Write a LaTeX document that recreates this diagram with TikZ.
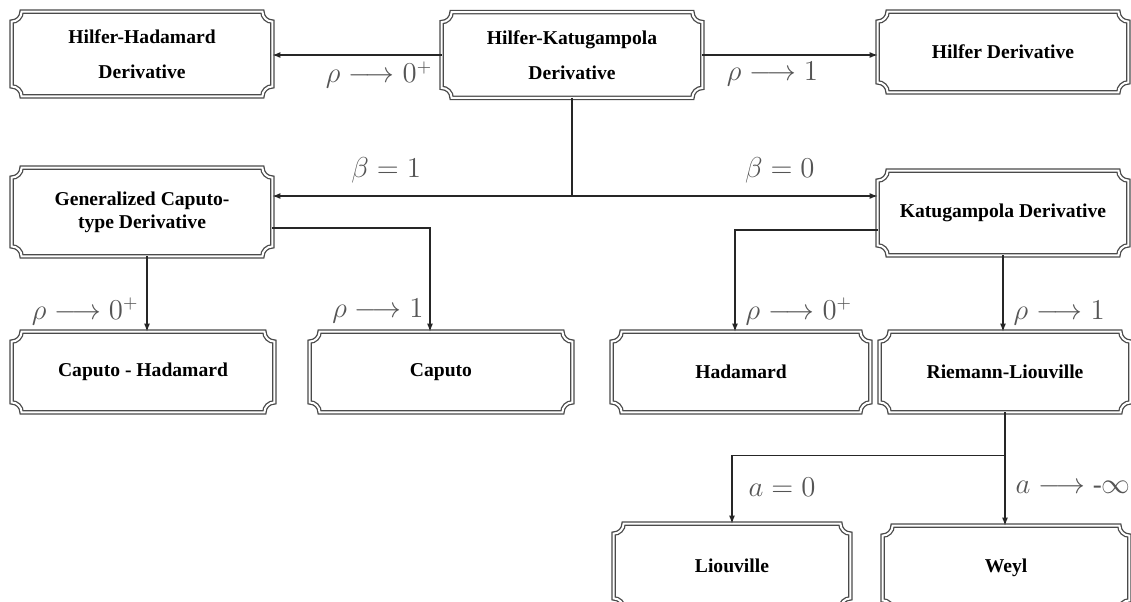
\documentclass[tikz,border=0pt]{standalone}
\usepackage{fontspec}
\setmainfont{Liberation Serif}
\usepackage{amsmath}
\usetikzlibrary{arrows.meta, positioning, calc}
\definecolor{framegray}{HTML}{4A4A4A}
\definecolor{condgray}{HTML}{555555}

\begin{document}
\begin{tikzpicture}[x=0.5pt, y=0.5pt,
  plaque/.style={minimum width=130pt, minimum height=41pt, inner sep=2pt,
                 align=center, font=\bfseries\fontsize{9.8}{11.5}\selectfont},
  frame/.style={draw=framegray, line width=0.65pt, double=white, double distance=1pt},
  arr/.style={draw=black!85, line width=0.6pt, -{Latex[length=4pt, width=3pt]}},
  cond/.style={text=condgray, font=\fontsize{13.5}{16}\selectfont, inner sep=2pt}]
\useasboundingbox (0,0) rectangle (1131,-601);

% top row
\node[plaque, minimum height=42pt] (hh) at (142,-54) {Hilfer-Hadamard\\[6pt]Derivative};
\node[plaque, minimum height=42.5pt] (hk) at (572,-55) {Hilfer-Katugampola\\[6pt]Derivative};
\node[plaque, minimum width=125pt, minimum height=40pt] (hd) at (1003,-52) {Hilfer Derivative};

% second row
\node[plaque, minimum height=44pt] (gc) at (142,-212) {Generalized Caputo-\\type Derivative};
\node[plaque, minimum width=125pt, minimum height=42pt] (kd) at (1003,-213) {Katugampola Derivative};

% third row
\node[plaque, minimum width=131pt, minimum height=40pt] (ch) at (143,-372) {Caputo - Hadamard};
\node[plaque, minimum width=131pt, minimum height=40pt] (cp) at (441,-372) {Caputo};
\node[plaque, minimum width=129pt, minimum height=40pt] (hm) at (741,-372) {Hadamard};
\node[plaque, minimum width=125pt, minimum height=40pt] (rl) at (1005,-372) {Riemann-Liouville};

% bottom row
\node[plaque, minimum width=118pt, minimum height=42pt] (lv) at (732,-566) {Liouville};
\node[plaque, minimum width=123pt, minimum height=42pt] (wy) at (1006,-568) {Weyl};

% plaque frames
\foreach \b in {hh,hk,hd,gc,kd,ch,cp,hm,rl,lv,wy}
  \draw[frame] let \p1=(\b.south west), \p2=(\b.north east) in
    (\x1+5pt,\y1) -- (\x2-5pt,\y1) arc[start angle=180, end angle=90, radius=5pt]
    -- (\x2,\y2-5pt) arc[start angle=270, end angle=180, radius=5pt]
    -- (\x1+5pt,\y2) arc[start angle=0, end angle=-90, radius=5pt]
    -- (\x1,\y1+5pt) arc[start angle=90, end angle=0, radius=5pt] -- cycle;

% connectors
\draw[arr] (hk.west) -- (hk.west -| hh.east)
  node[cond, pos=0.37, below=1pt] {$\rho\longrightarrow 0^{+}$};
\draw[arr] (hk.east) -- (hk.east -| hd.west)
  node[cond, pos=0.4, below=1pt] {$\rho\longrightarrow 1$};
\draw[arr] (hk.south) |- ([yshift=8pt]gc.east)
  node[cond, pos=0.81, above=4pt] {$\beta=1$};
\draw[arr] (hk.south) |- ([yshift=8.5pt]kd.west)
  node[cond, pos=0.84, above=4pt] {$\beta=0$};

\draw[arr] ([xshift=2.5pt]gc.south) -- ([xshift=2.5pt]gc.south |- ch.north)
  node[cond, pos=0.73, left=2pt] {$\rho\longrightarrow 0^{+}$};
\draw[arr] ([yshift=-8pt]gc.east) -| ([xshift=-5.5pt]cp.north)
  node[cond, pos=0.9, left=1pt] {$\rho\longrightarrow 1$};
\draw[arr] ([yshift=-8.5pt]kd.west) -| ([xshift=-3pt]hm.north)
  node[cond, pos=0.9, right=3pt] {$\rho\longrightarrow 0^{+}$};
\draw[arr] (kd.south) -- (kd.south |- rl.north)
  node[cond, pos=0.75, right=3pt] {$\rho\longrightarrow 1$};

\draw[arr] (rl.south) -- (rl.south |- wy.north)
  node[cond, pos=0.66, right=3pt] {$a\longrightarrow \text{-}\infty$};
\draw[arr] (rl.south) -- ++(0,-43) -| (lv.north)
  node[cond, pos=0.73, right=6pt] {$a=0$};
\end{tikzpicture}
\end{document}
